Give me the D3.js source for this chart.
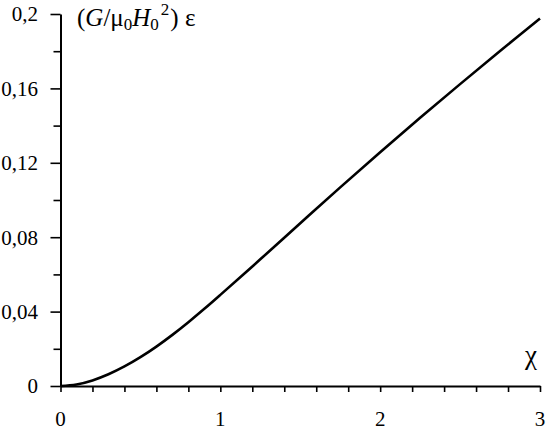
<!DOCTYPE html>
<html><head><meta charset="utf-8">
<script src="https://cdn.jsdelivr.net/npm/d3@7"></script>
</head><body style="margin:0">
<svg id="c" width="547" height="430" style="font-family:'Liberation Serif','Times New Roman',Tinos;display:block;background:#fff"></svg>
<script>
const chiValues = [0, 0.1, 0.2, 0.3, 0.4, 0.5, 0.6, 0.7, 0.8, 0.9, 1.0, 1.25, 1.5, 1.75, 2.0, 2.25, 2.5, 2.75, 3.0];
const epsValues = [0, 0.0008, 0.003, 0.0063, 0.0105, 0.0155, 0.0212, 0.0275, 0.0343, 0.0415, 0.049, 0.0681, 0.0875, 0.1068, 0.1257, 0.1442, 0.1623, 0.1801, 0.1976];
const xMajorTicks = [0, 1, 2, 3];
const xMinorTicks = [0.2,0.4,0.6,0.8,1.2,1.4,1.6,1.8,2.2,2.4,2.6,2.8];
const yMajorTicks = [0, 0.04, 0.08, 0.12, 0.16, 0.2];
const yMinorTicks = [0.02, 0.06, 0.10, 0.14, 0.18];
const yTickLabels = ["0", "0,04", "0,08", "0,12", "0,16", "0,2"];

const FONT = "Liberation Serif, Times New Roman, Tinos";
const svg = d3.select("#c");
const x = d3.scaleLinear().domain([0, 3]).range([60.5, 540]);
const y = d3.scaleLinear().domain([0, 0.2]).range([386, 14]);

function label(sel) {
  return sel.attr("font-family", FONT).style("font-family", FONT).attr("fill", "#000");
}

// curve
const pts = chiValues.map((c, i) => [c, epsValues[i]]);
svg.append("path").datum(pts)
  .attr("d", d3.line().x(d => x(d[0])).y(d => y(d[1])).curve(d3.curveCatmullRom.alpha(0.5)))
  .attr("fill", "none").attr("stroke", "#000").attr("stroke-width", 2.6);

// y label
const t = label(svg.append("text")).attr("x", 77).attr("y", 26).attr("font-size", 25);
t.append("tspan").text("(");
t.append("tspan").attr("font-style", "italic").text("G");
t.append("tspan").text("/μ");
t.append("tspan").attr("font-size", 17).attr("dy", 4).text("0");
t.append("tspan").attr("font-style", "italic").attr("dy", -4).text("H");
t.append("tspan").attr("font-size", 17).attr("dy", 4).text("0");
t.append("tspan").attr("font-size", 17).attr("dy", -15).attr("dx", 2).text("2");
t.append("tspan").attr("dy", 11).attr("dx", 1).text(") ε");

// x label
label(svg.append("text")).attr("x", 531).attr("y", 364).attr("text-anchor", "middle")
  .attr("font-size", 27).text("χ");

// tick labels
xMajorTicks.forEach(v => {
  label(svg.append("text")).attr("x", x(v)).attr("y", 426).attr("text-anchor", "middle")
    .attr("font-size", 21).text(String(v));
});
yMajorTicks.forEach((v, i) => {
  label(svg.append("text")).attr("x", 38).attr("y", y(v)).attr("dy", "0.35em").attr("text-anchor", "end")
    .attr("font-size", 21).text(yTickLabels[i]);
});

// x axis
const gx = svg.append("g").attr("transform", `translate(0,${y(0)})`);
gx.call(d3.axisBottom(x).tickValues(xMajorTicks.concat(xMinorTicks)).tickSize(6).tickSizeOuter(0).tickFormat(""));
gx.attr("font-family", null);
gx.selectAll(".tick text").remove();
gx.select(".domain").attr("stroke-width", 2);
gx.selectAll(".tick line").attr("stroke-width", 1.6);

// y axis
const gy = svg.append("g").attr("transform", `translate(${x(0)},0)`);
gy.call(d3.axisLeft(y).tickValues(yMajorTicks).tickSize(10).tickSizeOuter(0).tickFormat(""));
gy.attr("font-family", null);
gy.selectAll(".tick text").remove();
gy.select(".domain").attr("stroke-width", 2);
gy.selectAll(".tick line").attr("stroke-width", 1.6);
const gy2 = svg.append("g").attr("transform", `translate(${x(0)},0)`);
gy2.call(d3.axisLeft(y).tickValues(yMinorTicks).tickSize(7).tickSizeOuter(0).tickFormat(""));
gy2.attr("font-family", null);
gy2.selectAll(".tick text").remove();
gy2.select(".domain").remove();
gy2.selectAll(".tick line").attr("stroke-width", 1.6);
</script>
</body></html>
